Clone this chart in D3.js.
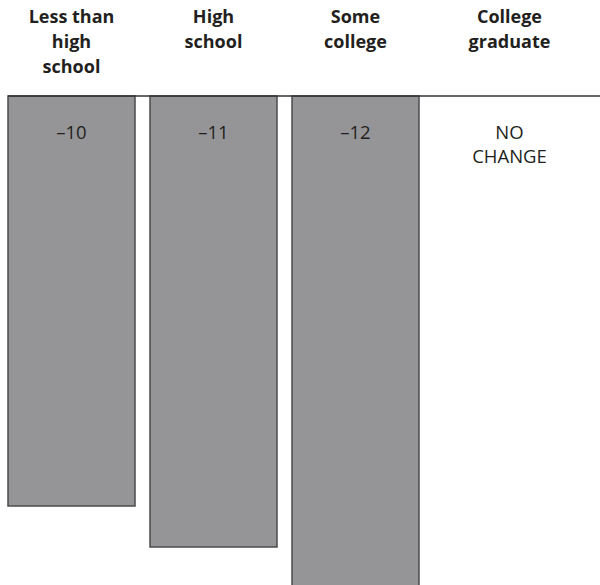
<!DOCTYPE html>
<html><head><meta charset="utf-8">
<script src="https://cdn.jsdelivr.net/npm/d3@7"></script>
<style>body{margin:0;background:#fff}svg{display:block}</style>
</head><body>
<script>
const categories = [["Less than","high","school"],["High","school"],["Some","college"],["College","graduate"]];
const values = [-10, -11, -12, null];
const valueLabels = [["\u201310"],["\u201311"],["\u201312"],["NO","CHANGE"]];

const W = 600, H = 585;
const svg = d3.select("body").append("svg").attr("width", W).attr("height", H);
const x = d3.scaleBand().domain(d3.range(categories.length)).range([8, 561]).paddingInner(15/142).paddingOuter(0);
const y = d3.scaleLinear().domain([0, -12]).range([96, 588]);

const font = "'Open Sans', 'Noto Sans', sans-serif";
const ink = "#231f20";

function cx(i) {
  if (values[i] === null) {
    const prevRight = x(i - 1) + x.bandwidth();
    return (prevRight + W) / 2;
  }
  return x(i) + x.bandwidth() / 2;
}

// bars
svg.selectAll("rect.bar").data(values.map((v, i) => ({v, i})).filter(d => d.v !== null))
  .join("rect").attr("class", "bar")
  .attr("x", d => x(d.i)).attr("width", x.bandwidth())
  .attr("y", y(0)).attr("height", d => y(d.v) - y(0))
  .attr("fill", "#959598").attr("stroke", "#4b4b4d").attr("stroke-width", 1.5);

// baseline
svg.append("line").attr("x1", 8).attr("x2", W).attr("y1", y(0)).attr("y2", y(0))
  .attr("stroke", "#333").attr("stroke-width", 1.5);

// category labels
categories.forEach((lines, i) => {
  const t = svg.append("text").attr("text-anchor", "middle").attr("font-family", font)
    .attr("font-weight", "bold").attr("font-size", 18).attr("fill", ink);
  lines.forEach((l, j) => t.append("tspan").attr("x", cx(i)).attr("y", 23 + j * 25).text(l));
});

// value labels
valueLabels.forEach((lines, i) => {
  const t = svg.append("text").attr("text-anchor", "middle").attr("font-family", font)
    .attr("font-size", 18.5).attr("fill", ink);
  lines.forEach((l, j) => t.append("tspan").attr("x", cx(i)).attr("y", 139 + j * 24).text(l));
});
</script>
</body></html>
